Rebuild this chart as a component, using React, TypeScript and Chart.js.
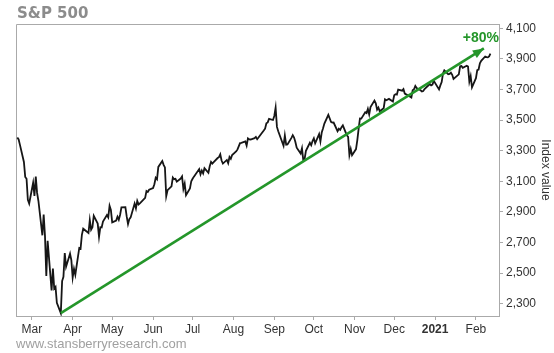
import React, { useEffect, useRef } from "react";
import { Chart, registerables } from "chart.js";

Chart.register(...registerables);

// ---- Data: S&P 500 daily closes, grouped by month ----
const feb2020Days = [19, 20, 21, 24, 25, 26, 27, 28];
const feb2020 = [3386.15, 3373.23, 3337.75, 3225.89, 3128.21, 3116.39, 2978.76, 2954.22];
const mar2020Days = [2, 3, 4, 5, 6, 9, 10, 11, 12, 13, 16, 17, 18, 19, 20, 23, 24, 25, 26, 27, 30, 31];
const mar2020 = [3090.23, 3003.37, 3130.12, 3023.94, 2972.37, 2746.56, 2882.23, 2741.38, 2480.64, 2711.02, 2386.13, 2529.19, 2398.1, 2409.39, 2304.92, 2237.4, 2447.33, 2475.56, 2630.07, 2541.47, 2626.65, 2584.59];
const apr2020Days = [1, 2, 3, 6, 7, 8, 9, 13, 14, 15, 16, 17, 20, 21, 22, 23, 24, 27, 28, 29, 30];
const apr2020 = [2470.5, 2526.9, 2488.65, 2663.68, 2659.41, 2749.98, 2789.82, 2761.63, 2846.06, 2783.36, 2799.55, 2874.56, 2823.16, 2736.56, 2799.31, 2797.8, 2836.74, 2878.48, 2863.39, 2939.51, 2912.43];
const may2020Days = [1, 4, 5, 6, 7, 8, 11, 12, 13, 14, 15, 18, 19, 20, 21, 22, 26, 27, 28, 29];
const may2020 = [2830.71, 2842.74, 2868.44, 2848.42, 2881.19, 2929.8, 2930.32, 2870.12, 2820.0, 2852.5, 2863.7, 2953.91, 2922.94, 2971.61, 2948.51, 2955.45, 2991.77, 3036.13, 3029.73, 3044.31];
const jun2020Days = [1, 2, 3, 4, 5, 8, 9, 10, 11, 12, 15, 16, 17, 18, 19, 22, 23, 24, 25, 26, 29, 30];
const jun2020 = [3055.73, 3080.82, 3122.87, 3112.35, 3193.93, 3232.39, 3207.18, 3190.14, 3002.1, 3041.31, 3066.59, 3124.74, 3113.49, 3115.34, 3097.74, 3117.86, 3131.29, 3050.33, 3083.76, 3009.05, 3053.24, 3100.29];
const jul2020Days = [1, 2, 6, 7, 8, 9, 10, 13, 14, 15, 16, 17, 20, 21, 22, 23, 24, 27, 28, 29, 30, 31];
const jul2020 = [3115.86, 3130.01, 3179.72, 3145.32, 3169.94, 3152.05, 3185.04, 3155.22, 3197.52, 3226.56, 3215.57, 3224.73, 3251.84, 3257.3, 3276.02, 3235.66, 3215.63, 3239.41, 3218.44, 3258.44, 3246.22, 3271.12];
const aug2020Days = [3, 4, 5, 6, 7, 10, 11, 12, 13, 14, 17, 18, 19, 20, 21, 24, 25, 26, 27, 28, 31];
const aug2020 = [3294.61, 3306.51, 3327.77, 3349.16, 3351.28, 3360.47, 3333.69, 3380.35, 3373.43, 3372.85, 3381.99, 3389.78, 3374.85, 3385.51, 3397.16, 3431.28, 3443.62, 3478.73, 3484.55, 3508.01, 3500.31];
const sep2020Days = [1, 2, 3, 4, 8, 9, 10, 11, 14, 15, 16, 17, 18, 21, 22, 23, 24, 25, 28, 29, 30];
const sep2020 = [3526.65, 3580.84, 3455.06, 3426.96, 3331.84, 3398.96, 3339.19, 3340.97, 3383.54, 3401.2, 3385.49, 3357.01, 3319.47, 3281.06, 3315.57, 3236.92, 3246.59, 3298.46, 3351.6, 3335.47, 3363.0];
const oct2020Days = [1, 2, 5, 6, 7, 8, 9, 12, 13, 14, 15, 16, 19, 20, 21, 22, 23, 26, 27, 28, 29, 30];
const oct2020 = [3380.8, 3348.42, 3408.6, 3360.97, 3419.44, 3446.83, 3477.14, 3534.22, 3511.93, 3488.67, 3483.34, 3483.81, 3426.92, 3443.12, 3435.56, 3453.49, 3465.39, 3400.97, 3390.68, 3271.03, 3310.11, 3269.96];
const nov2020Days = [2, 3, 4, 5, 6, 9, 10, 11, 12, 13, 16, 17, 18, 19, 20, 23, 24, 25, 27, 30];
const nov2020 = [3310.24, 3369.16, 3443.44, 3510.45, 3509.44, 3550.5, 3545.53, 3572.66, 3537.01, 3585.15, 3626.91, 3609.53, 3567.79, 3581.87, 3557.54, 3577.59, 3635.41, 3629.65, 3638.35, 3621.63];
const dec2020Days = [1, 2, 3, 4, 7, 8, 9, 10, 11, 14, 15, 16, 17, 18, 21, 22, 23, 24, 28, 29, 30, 31];
const dec2020 = [3662.45, 3669.01, 3666.72, 3699.12, 3691.96, 3702.25, 3672.82, 3668.1, 3663.46, 3647.49, 3694.62, 3701.17, 3722.48, 3709.41, 3694.92, 3687.26, 3690.01, 3703.06, 3735.36, 3727.04, 3732.04, 3756.07];
const jan2021Days = [4, 5, 6, 7, 8, 11, 12, 13, 14, 15, 19, 20, 21, 22, 25, 26, 27, 28, 29];
const jan2021 = [3700.65, 3726.86, 3748.14, 3803.79, 3824.68, 3799.61, 3801.19, 3809.84, 3795.54, 3768.25, 3798.91, 3851.85, 3853.07, 3841.47, 3855.36, 3849.62, 3750.77, 3787.38, 3714.24];
const feb2021Days = [1, 2, 3, 4, 5, 8, 9, 10, 11, 12];
const feb2021 = [3773.86, 3826.31, 3830.17, 3871.74, 3886.83, 3915.59, 3911.23, 3909.88, 3916.38, 3934.83];

// [year, month, days, closes]
const monthTable: [number, number, number[], number[]][] = [
  [2020, 2, feb2020Days, feb2020],
  [2020, 3, mar2020Days, mar2020],
  [2020, 4, apr2020Days, apr2020],
  [2020, 5, may2020Days, may2020],
  [2020, 6, jun2020Days, jun2020],
  [2020, 7, jul2020Days, jul2020],
  [2020, 8, aug2020Days, aug2020],
  [2020, 9, sep2020Days, sep2020],
  [2020, 10, oct2020Days, oct2020],
  [2020, 11, nov2020Days, nov2020],
  [2020, 12, dec2020Days, dec2020],
  [2021, 1, jan2021Days, jan2021],
  [2021, 2, feb2021Days, feb2021],
];

// x-axis month ticks
const monthTickDates: [number, number][] = [
  [2020, 3], [2020, 4], [2020, 5], [2020, 6], [2020, 7], [2020, 8],
  [2020, 9], [2020, 10], [2020, 11], [2020, 12], [2021, 1], [2021, 2],
];
const monthTickLabels = ["Mar", "Apr", "May", "Jun", "Jul", "Aug", "Sep", "Oct", "Nov", "Dec", "2021", "Feb"];

const yTickValues = [2300, 2500, 2700, 2900, 3100, 3300, 3500, 3700, 3900, 4100];

// trend arrow: [year, month, day, value]
const arrowStart: [number, number, number, number] = [2020, 3, 23, 2237.4];
const arrowEnd: [number, number, number, number] = [2021, 2, 7, 3968];
const arrowLabel = "+80%";

const ORIGIN = Date.UTC(2020, 2, 1);
const dayIndex = (y: number, m: number, d: number) => (Date.UTC(y, m - 1, d) - ORIGIN) / 86400000;

const GREEN = "#24962a";

export default function App() {
  const ref = useRef<HTMLCanvasElement | null>(null);

  useEffect(() => {
    if (!ref.current) return;
    const points: { x: number; y: number }[] = [];
    monthTable.forEach(([y, m, days, closes]) => {
      days.forEach((d, i) => points.push({ x: dayIndex(y, m, d), y: closes[i] }));
    });
    const arrowPts = [
      { x: dayIndex(arrowStart[0], arrowStart[1], arrowStart[2]), y: arrowStart[3] },
      { x: dayIndex(arrowEnd[0], arrowEnd[1], arrowEnd[2]), y: arrowEnd[3] },
    ];
    const monthTicks = monthTickDates.map(([y, m]) => dayIndex(y, m, 1));

    const framePlugin = {
      id: "frame",
      beforeDatasetsDraw(chart: any) {
        const { ctx, chartArea } = chart;
        ctx.save();
        ctx.strokeStyle = "#aaaaaa";
        ctx.lineWidth = 1;
        ctx.beginPath();
        ctx.moveTo(chartArea.left + 0.5, chartArea.bottom);
        ctx.lineTo(chartArea.left + 0.5, chartArea.top + 0.5);
        ctx.lineTo(chartArea.right, chartArea.top + 0.5);
        ctx.stroke();
        ctx.restore();
      },
    };

    const arrowPlugin = {
      id: "arrowHead",
      afterDatasetsDraw(chart: any) {
        const meta = chart.getDatasetMeta(1);
        const p0 = meta.data[0];
        const p1 = meta.data[1];
        if (!p0 || !p1) return;
        const ctx = chart.ctx;
        const ang = Math.atan2(p1.y - p0.y, p1.x - p0.x);
        const len = 11;
        const hw = 4.5;
        ctx.save();
        ctx.fillStyle = GREEN;
        ctx.beginPath();
        ctx.moveTo(p1.x, p1.y);
        ctx.lineTo(p1.x - len * Math.cos(ang) + hw * Math.sin(ang), p1.y - len * Math.sin(ang) - hw * Math.cos(ang));
        ctx.lineTo(p1.x - len * Math.cos(ang) - hw * Math.sin(ang), p1.y - len * Math.sin(ang) + hw * Math.cos(ang));
        ctx.closePath();
        ctx.fill();
        ctx.font = "bold 14px 'Liberation Sans', Arial, sans-serif";
        ctx.textAlign = "center";
        ctx.textBaseline = "middle";
        ctx.fillText(arrowLabel, p1.x - 3, p1.y - 10);
        ctx.restore();
      },
    };

    const textPlugin = {
      id: "texts",
      afterDraw(chart: any) {
        const ctx = chart.ctx;
        ctx.save();
        ctx.fillStyle = "#8c8c8c";
        ctx.font = "bold 15px 'DejaVu Sans', Verdana, sans-serif";
        ctx.textAlign = "left";
        ctx.textBaseline = "alphabetic";
        ctx.fillText("S&P 500", 17, 18);
        ctx.fillStyle = "#a0a0a0";
        ctx.font = "13px 'Liberation Sans', Arial, sans-serif";
        ctx.textBaseline = "middle";
        ctx.fillText("www.stansberryresearch.com", 16, 344);
        ctx.restore();
      },
    };

    const chart = new Chart(ref.current, {
      type: "line",
      data: {
        datasets: [
          {
            data: points,
            borderColor: "#161616",
            borderWidth: 1.8,
            pointRadius: 0,
            tension: 0,
            order: 1,
          },
          {
            data: arrowPts,
            borderColor: GREEN,
            borderWidth: 2.6,
            pointRadius: 0,
            tension: 0,
            order: 0,
          },
        ],
      },
      options: {
        animation: false,
        responsive: false,
        events: [],
        layout: { padding: { left: 16, top: 24, right: 0, bottom: 0 } },
        plugins: { legend: { display: false }, tooltip: { enabled: false }, title: { display: false } },
        scales: {
          x: {
            type: "linear",
            position: "bottom",
            min: -12,
            max: 354.5,
            afterBuildTicks: (s: any) => {
              s.ticks = monthTicks.map((v) => ({ value: v }));
            },
            afterFit: (s: any) => {
              s.height = 37;
            },
            grid: { drawOnChartArea: false, drawTicks: true, tickLength: 4, color: "#aaaaaa" },
            border: { display: true, color: "#aaaaaa" },
            ticks: {
              autoSkip: false,
              maxRotation: 0,
              padding: 2,
              color: "#333333",
              font: (c: any) => ({
                family: "'Liberation Sans', Arial, sans-serif",
                size: 12,
                weight: c.index === 10 ? "bold" : "normal",
              }),
              callback: (_v: any, i: number) => monthTickLabels[i],
            },
          },
          y: {
            type: "linear",
            position: "right",
            min: 2219,
            max: 4128,
            afterBuildTicks: (s: any) => {
              s.ticks = yTickValues.map((v) => ({ value: v }));
            },
            afterFit: (s: any) => {
              s.width = 55;
            },
            grid: { drawOnChartArea: false, drawTicks: true, tickLength: 4, color: "#aaaaaa" },
            border: { display: true, color: "#aaaaaa" },
            ticks: {
              padding: 3,
              color: "#333333",
              font: { family: "'Liberation Sans', Arial, sans-serif", size: 12 },
              callback: (v: any) => Number(v).toLocaleString("en-US"),
            },
            title: {
              display: true,
              text: "Index value",
              color: "#333333",
              padding: { top: 1, bottom: 1 },
              font: { family: "'Liberation Sans', Arial, sans-serif", size: 12 },
            },
          },
        },
      },
      plugins: [framePlugin, arrowPlugin, textPlugin],
    });
    return () => chart.destroy();
  }, []);

  return (
    <div style={{ position: "fixed", left: 0, top: 0, width: 554, height: 353, background: "#fff" }}>
      <canvas ref={ref} width={554} height={353} />
    </div>
  );
}
